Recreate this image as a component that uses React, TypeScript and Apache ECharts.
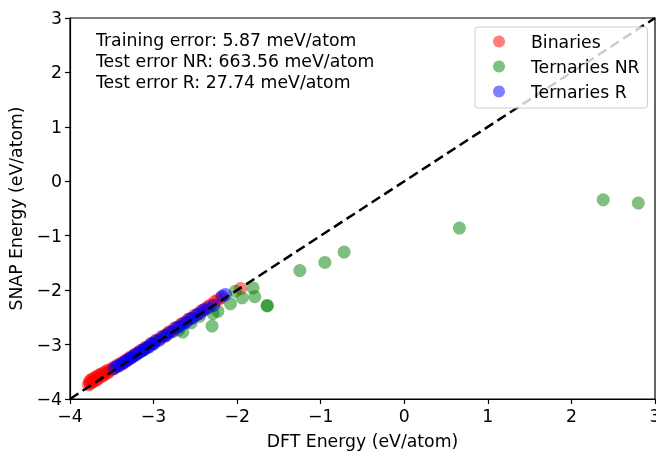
import React, { useEffect, useRef } from "react";
import * as echarts from "echarts";

const binX = [-3.78,-3.77,-3.76,-3.75,-3.74,-3.73,-3.72,-3.70,-3.69,-3.68,-3.67,-3.65,-3.64,-3.63,-3.61,-3.60,-3.59,-3.57,-3.56,-3.55,-3.53,-3.51,-3.49,-3.48,-3.46,-3.43,-3.41,-3.38,-3.36,-3.33,-3.30,-3.28,-3.25,-3.22,-3.19,-3.16,-3.13,-3.10,-3.07,-3.03,-3.00,-2.97,-2.93,-2.90,-2.86,-2.82,-2.79,-2.75,-2.71,-2.67,-2.63,-2.59,-2.55,-2.51,-2.47,-2.43,-2.39,-2.35,-2.31,-2.27,-2.23,-2.19,-1.96];
const binY = [-3.74,-3.68,-3.72,-3.65,-3.70,-3.63,-3.68,-3.61,-3.66,-3.58,-3.64,-3.56,-3.60,-3.54,-3.58,-3.52,-3.55,-3.50,-3.53,-3.47,-3.50,-3.46,-3.45,-3.42,-3.42,-3.37,-3.38,-3.33,-3.34,-3.28,-3.27,-3.23,-3.22,-3.17,-3.16,-3.11,-3.10,-3.05,-3.05,-2.98,-2.97,-2.92,-2.90,-2.85,-2.83,-2.77,-2.76,-2.70,-2.68,-2.62,-2.60,-2.54,-2.52,-2.46,-2.44,-2.38,-2.36,-2.30,-2.27,-2.21,-2.18,-2.14,-1.97];

const terNRX = [2.80,2.38,0.66,-0.72,-0.95,-1.25,-1.64,-1.64,-1.81,-1.79,-1.94,-2.08,-2.23,-2.29,-2.30,-2.65,-2.02,-2.45,-2.55,-2.70,-2.85,-3.00,-3.12];
const terNRY = [-0.40,-0.34,-0.86,-1.30,-1.49,-1.64,-2.28,-2.29,-1.96,-2.12,-2.14,-2.25,-2.39,-2.43,-2.66,-2.77,-2.02,-2.48,-2.60,-2.73,-2.82,-2.98,-3.10];

const terRX = [-3.47,-3.44,-3.41,-3.38,-3.36,-3.33,-3.31,-3.28,-3.26,-3.23,-3.21,-3.18,-3.16,-3.13,-3.11,-3.08,-3.05,-3.03,-3.00,-2.97,-2.93,-2.89,-2.85,-2.81,-2.77,-2.73,-2.69,-2.65,-2.61,-2.57,-2.53,-2.48,-2.44,-2.40,-2.35,-2.28,-2.18,-2.14];
const terRY = [-3.44,-3.40,-3.39,-3.35,-3.34,-3.30,-3.29,-3.25,-3.24,-3.20,-3.19,-3.15,-3.14,-3.10,-3.09,-3.05,-3.04,-2.99,-2.99,-2.93,-2.92,-2.86,-2.84,-2.78,-2.76,-2.69,-2.67,-2.62,-2.59,-2.53,-2.51,-2.45,-2.42,-2.36,-2.33,-2.28,-2.11,-2.08];

const diagX = [-4, 3];
const errorLines = [
  "Training error: 5.87 meV/atom",
  "Test error NR: 663.56 meV/atom",
  "Test error R: 27.74 meV/atom",
];
const seriesNames = ["Binaries", "Ternaries NR", "Ternaries R"];

const FONT = "DejaVu Sans";
const FS = 17.3;
const fmt = (v: number) => String(v).replace("-", "\u2212");
const zip = (xs: number[], ys: number[]) => xs.map((x, i) => [x, ys[i]]);

export default function App() {
  const ref = useRef<HTMLDivElement>(null);
  useEffect(() => {
    if (!ref.current) return;
    const chart = echarts.init(ref.current, null, { renderer: "svg" });
    const axisCommon = {
      type: "value" as const,
      min: -4,
      max: 3,
      interval: 1,
      splitLine: { show: false },
      axisLine: { show: true, onZero: false, lineStyle: { color: "#000", width: 1.2 } },
      axisTick: { show: true, length: 5, lineStyle: { color: "#000", width: 1.2 } },
      axisLabel: { color: "#000", fontSize: FS, fontFamily: FONT, formatter: fmt, showMaxLabel: true, showMinLabel: true },
      nameLocation: "middle" as const,
      nameTextStyle: { color: "#000", fontSize: FS, fontFamily: FONT },
    };
    const scatterCommon = {
      type: "scatter" as const,
      symbol: "circle",
      symbolSize: 13,
      z: 2,
    };
    chart.setOption({
      animation: false,
      textStyle: { fontFamily: FONT },
      grid: { left: 70, right: 1, top: 18, bottom: 53, show: true, borderColor: "#000", borderWidth: 1.2, backgroundColor: "transparent", outerBoundsMode: "none", containLabel: false },
      xAxis: { ...axisCommon, name: "DFT Energy (eV/atom)", nameGap: 33, axisLabel: { ...axisCommon.axisLabel, margin: 8 } },
      yAxis: { ...axisCommon, name: "SNAP Energy (eV/atom)", nameGap: 46, axisLabel: { ...axisCommon.axisLabel, margin: 8 } },
      legend: {
        data: seriesNames,
        orient: "vertical",
        left: 475,
        top: 27,
        icon: "circle",
        itemWidth: 12,
        itemHeight: 12,
        itemGap: 8,
        padding: [6, 8, 8, 18],
        backgroundColor: "rgba(255,255,255,0.8)",
        borderColor: "#cccccc",
        borderWidth: 1,
        borderRadius: 3,
        textStyle: { color: "#000", fontSize: FS, fontFamily: FONT, padding: [0, 0, 0, 21] },
      },
      graphic: [
        {
          type: "text",
          left: 96,
          top: 29,
          z: 10,
          style: {
            text: errorLines.join("\n"),
            fontSize: FS,
            fontFamily: FONT,
            lineHeight: 21.3,
            fill: "#000",
          },
        },
      ],
      series: [
        { ...scatterCommon, name: seriesNames[0], data: zip(binX, binY), itemStyle: { color: "red", opacity: 0.5 } },
        { ...scatterCommon, name: seriesNames[1], data: zip(terNRX, terNRY), itemStyle: { color: "green", opacity: 0.5 } },
        { ...scatterCommon, name: seriesNames[2], data: zip(terRX, terRY), itemStyle: { color: "blue", opacity: 0.5 } },
        {
          type: "line",
          name: "diag",
          data: zip(diagX, diagX),
          symbol: "none",
          z: 3,
          lineStyle: { color: "#000", width: 2.5, type: [10, 5] },
        },
      ],
    });
    return () => chart.dispose();
  }, []);
  return <div ref={ref} style={{ position: "fixed", left: 0, top: 0, width: 656, height: 452 }} />;
}
